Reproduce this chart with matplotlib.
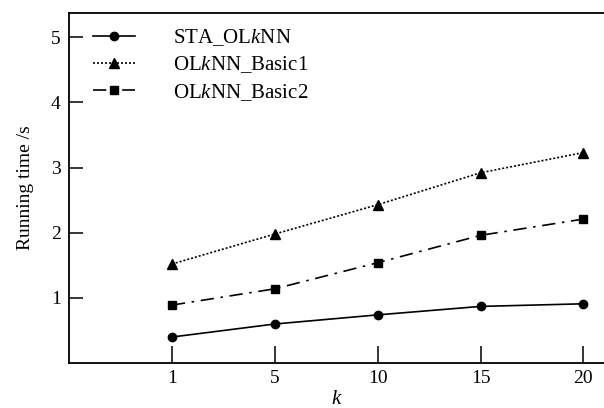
import matplotlib
matplotlib.use('Agg')
import matplotlib.pyplot as plt

plt.rcParams['font.family'] = ['Liberation Serif', 'DejaVu Serif']
plt.rcParams['mathtext.fontset'] = 'custom'
plt.rcParams['mathtext.rm'] = 'Liberation Serif'
plt.rcParams['mathtext.it'] = 'Liberation Serif:italic'

# === 數據 ===
k_labels = ["1", "5", "10", "15", "20"]
sta_olknn = [0.40, 0.60, 0.74, 0.87, 0.91]
basic1 = [1.52, 1.98, 2.43, 2.92, 3.23]
basic2 = [0.89, 1.14, 1.54, 1.96, 2.21]
series_names = ["STA_OL$k$NN", "OL$k$NN_Basic1", "OL$k$NN_Basic2"]

x = list(range(1, len(k_labels) + 1))

fig = plt.figure(figsize=(6.04, 4.08), dpi=100)
ax = fig.add_axes([0.1142, 0.110, 0.8858, 0.858])

ax.plot(x, sta_olknn, color="black", linestyle="-", marker="o", markersize=6, linewidth=1.2,
        label=series_names[0])
ax.plot(x, basic1, color="black", linestyle=(0, (1.2, 1.2)), marker="^", markersize=6.5, linewidth=1.2,
        label=series_names[1])
ax.plot(x, basic2, color="black", linestyle=(0, (8, 4, 1.5, 4)), marker="s", markersize=5.5, linewidth=1.2,
        label=series_names[2])

ax.set_xlim(0, 5.2)
ax.set_ylim(0, 5.37)
ax.set_xticks(x)
ax.set_xticklabels(k_labels)
ax.set_yticks([1, 2, 3, 4, 5])
ax.tick_params(axis="both", direction="in", labelsize=14, width=1.1, colors="black")
ax.tick_params(axis="x", length=12, pad=5)
ax.tick_params(axis="y", length=10, pad=6)

ax.spines["right"].set_visible(False)
for s in ["left", "bottom", "top"]:
    ax.spines[s].set_linewidth(1.3)

ax.set_xlabel("$k$", fontsize=15, labelpad=2)
ax.set_ylabel("Running time /s", fontsize=14, labelpad=12)

leg = ax.legend(loc="upper left", bbox_to_anchor=(0.03, 0.982), frameon=False, fontsize=15,
                handlelength=2.0, handletextpad=1.8, labelspacing=0.3, borderaxespad=0)

fig.savefig("out.png", dpi=100)
